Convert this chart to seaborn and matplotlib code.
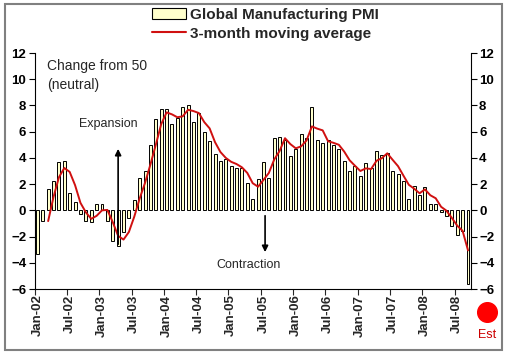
import pandas as pd
import matplotlib
matplotlib.use("Agg")
import matplotlib.pyplot as plt
import seaborn as sns
from matplotlib.patches import Rectangle, Patch
from matplotlib.lines import Line2D

# Données (écart par rapport à 50), Jan-02 -> Sep-08 (Est)
pmi = [-3.3, -0.8, 1.65, 2.25, 3.65, 3.8, 1.35, 0.6, -0.25, -0.8, -0.9, 0.45,
       0.45, -0.8, -2.35, -2.7, -1.65, -0.6, 0.8, 2.5, 3.0, 5.0, 7.0, 7.7,
       7.7, 6.55, 7.05, 7.9, 8.05, 6.75, 7.45, 6.0, 5.3, 4.3, 3.75, 3.95,
       3.4, 3.25, 3.2, 2.1, 0.9, 2.4, 3.65, 2.5, 5.5, 5.6, 5.4, 4.15,
       4.65, 5.85, 5.5, 7.85, 5.35, 5.1, 5.35, 5.0, 4.65, 3.8, 3.0, 3.4,
       2.6, 3.6, 3.25, 4.5, 4.2, 4.35, 3.0, 2.75, 2.2, 0.9, 1.85, 1.15,
       1.8, 0.5, 0.45, -0.15, -0.4, -1.2, -1.9, -1.6, -5.65]

moy_mobile = [-0.82, 1.03, 2.52, 3.23, 2.93, 1.92, 0.57, -0.15, -0.65, -0.42,
              0.0, 0.03, -0.9, -1.95, -2.23, -1.65, -0.48, 0.9, 2.1, 3.5,
              5.0, 6.57, 7.47, 7.32, 7.1, 7.17, 7.67, 7.57, 7.42, 6.73,
              6.25, 5.2, 4.45, 4.0, 3.7, 3.53, 3.28, 2.85, 2.07, 1.8,
              2.32, 2.85, 3.88, 4.53, 5.5, 5.05, 4.73, 4.88, 5.33, 6.4,
              6.23, 6.1, 5.27, 5.15, 5.0, 4.48, 3.82, 3.4, 3.0, 3.2,
              3.15, 3.78, 3.98, 4.35, 3.85, 3.37, 2.65, 1.95, 1.65, 1.3,
              1.6, 1.15, 0.92, 0.27, -0.03, -0.58, -1.17, -1.57, -3.05]

etiquettes_x = ["Jan-02", "Jul-02", "Jan-03", "Jul-03", "Jan-04", "Jul-04", "Jan-05",
                "Jul-05", "Jan-06", "Jul-06", "Jan-07", "Jul-07", "Jan-08", "Jul-08"]

df_barres = pd.DataFrame({"mois": range(len(pmi)), "pmi": pmi})
df_ligne = pd.DataFrame({"mois": range(2, 2 + len(moy_mobile)), "moy": moy_mobile})

sns.set_theme(style="white")
plt.rcParams['font.family'] = ['Liberation Sans', 'DejaVu Sans']

fig = plt.figure(figsize=(5.1, 3.57), dpi=100)
ax = fig.add_axes([34.7 / 510, 1 - 289 / 357, 436 / 510, 236 / 357])

sns.barplot(data=df_barres, x="mois", y="pmi", ax=ax, color="#FFFFCC", saturation=1,
            edgecolor="black", linewidth=0.7, width=0.55, errorbar=None, native_scale=True)
sns.lineplot(data=df_ligne, x="mois", y="moy", ax=ax, color="#D01010", linewidth=1.4)

ax.set_xlim(-0.5, len(pmi) - 0.5)
ax.set_ylim(-6, 12)
ax.set_xlabel("")
ax.set_ylabel("")

# Axe des y des deux côtés
ax.set_yticks(range(-6, 13, 2))
ax.tick_params(axis="y", which="both", left=True, right=True, labelleft=True, labelright=True,
               direction="out", length=4, width=0.8, pad=2, labelsize=9.5, colors="black")
for lab in ax.get_yticklabels():
    lab.set_fontweight("bold")

# Axe des x : traits entre les catégories, étiquettes sur le premier mois
pos_labels = list(range(0, len(pmi), 6))[:len(etiquettes_x)]
ax.set_xticks([p - 0.5 for p in pos_labels])
ax.set_xticklabels([""] * len(pos_labels))
ax.set_xticks(pos_labels, minor=True)
ax.set_xticklabels(etiquettes_x, minor=True, rotation=90, fontweight="bold", fontsize=9.5)
ax.tick_params(axis="x", which="major", bottom=True, direction="out", length=4, width=0.8)
ax.tick_params(axis="x", which="minor", bottom=False, length=0, pad=4)

for s in ["left", "right", "bottom"]:
    ax.spines[s].set_visible(True)
    ax.spines[s].set_color("black")
    ax.spines[s].set_linewidth(0.8)
ax.spines["top"].set_visible(False)

# Textes et flèches
ax.text(1.8, 11.0, "Change from 50", fontsize=10, va="center", ha="left")
ax.text(1.8, 9.55, "(neutral)", fontsize=10, va="center", ha="left")
ax.text(13.1, 6.55, "Expansion", fontsize=9, va="center", ha="center")
ax.annotate("", xy=(15, 4.9), xytext=(15, -2.8),
            arrowprops=dict(arrowstyle="-|>", color="black", lw=1.2, mutation_scale=9))
ax.text(39.3, -4.2, "Contraction", fontsize=9, va="center", ha="center")
ax.annotate("", xy=(42.3, -3.4), xytext=(42.3, -0.2),
            arrowprops=dict(arrowstyle="-|>", color="black", lw=1.2, mutation_scale=9))

# Point "Est"
ax.scatter([1.037], [-0.097], s=200, color="#FF0000", transform=ax.transAxes, clip_on=False, zorder=5)
ax.text(1.037, -0.195, "Est", color="#CC0000", fontsize=9, ha="center", va="center",
        transform=ax.transAxes)

# Légende
poignees = [Patch(facecolor="#FFFFCC", edgecolor="black", linewidth=0.8),
            Line2D([0], [0], color="#D01010", linewidth=1.5)]
leg = fig.legend(poignees, ["Global Manufacturing PMI", "3-month moving average"],
                 loc="upper left", bbox_to_anchor=(146 / 510, 1 - 2 / 357), frameon=False,
                 prop={"weight": "bold", "size": 11}, handlelength=2.2, handleheight=0.7,
                 labelspacing=0.3, handletextpad=0.3, borderaxespad=0)

# Cadre gris autour du graphique
fig.patches.append(Rectangle((5 / 510, 7 / 357), 497 / 510, 346 / 357, transform=fig.transFigure,
                             fill=False, edgecolor="#808080", linewidth=1.5))

plt.savefig("out.png", dpi=100)
